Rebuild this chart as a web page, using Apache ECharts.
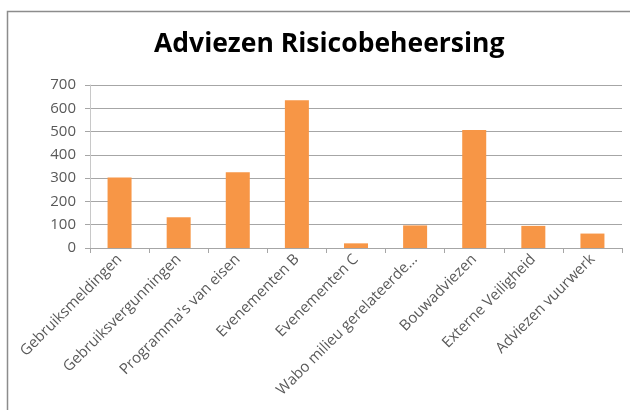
<!DOCTYPE html>
<html>
<head>
<meta charset="utf-8">
<script src="https://cdn.jsdelivr.net/npm/echarts@6/dist/echarts.min.js"></script>
<style>
  html, body { margin: 0; padding: 0; background: #fff; }
  #chart { width: 630px; height: 410px; }
</style>
</head>
<body>
<div id="chart"></div>
<script>
// Aantal adviezen per categorie
const categories = [
  'Gebruiksmeldingen',
  'Gebruiksvergunningen',
  "Programma's van eisen",
  'Evenementen B',
  'Evenementen C',
  'Wabo milieu gerelateerde...',
  'Bouwadviezen',
  'Externe Veiligheid',
  'Adviezen vuurwerk'
];
const values = [303, 132, 325, 635, 20, 97, 507, 95, 62];
const yTicks = [0, 100, 200, 300, 400, 500, 600, 700];

const chart = echarts.init(document.getElementById('chart'), null, { renderer: 'canvas' });
chart.setOption({
  animation: false,
  backgroundColor: '#ffffff',
  title: {
    text: 'Adviezen Risicobeheersing',
    left: 149,
    top: 26,
    textStyle: {
      fontFamily: 'Open Sans',
      fontWeight: 'bold',
      fontSize: 26.5,
      color: '#000000'
    }
  },
  graphic: [{
    type: 'rect',
    shape: { x: 7.5, y: 11.5, width: 640, height: 420 },
    style: { fill: 'none', stroke: '#8c8c8c', lineWidth: 1.5 },
    silent: true
  }],
  grid: { left: 90, right: 8, top: 85, bottom: 162 },
  xAxis: {
    type: 'category',
    data: categories,
    axisLine: { lineStyle: { color: '#a6a6a6' } },
    axisTick: { show: true, length: 5, lineStyle: { color: '#a6a6a6' } },
    axisLabel: {
      interval: 0,
      rotate: 45,
      margin: 9,
      color: '#595959',
      fontFamily: 'Open Sans',
      fontSize: 15
    }
  },
  yAxis: {
    type: 'value',
    min: yTicks[0],
    max: yTicks[yTicks.length - 1],
    interval: yTicks[1] - yTicks[0],
    axisLine: { show: true, lineStyle: { color: '#c8c8c8' } },
    axisTick: { show: true, length: 5, lineStyle: { color: '#a6a6a6' } },
    splitLine: { lineStyle: { color: '#a6a6a6' } },
    axisLabel: {
      margin: 14,
      color: '#595959',
      fontFamily: 'Open Sans',
      fontSize: 15
    }
  },
  series: [{
    type: 'bar',
    data: values,
    barWidth: 24,
    itemStyle: { color: '#f79646' }
  }]
});
</script>
</body>
</html>
